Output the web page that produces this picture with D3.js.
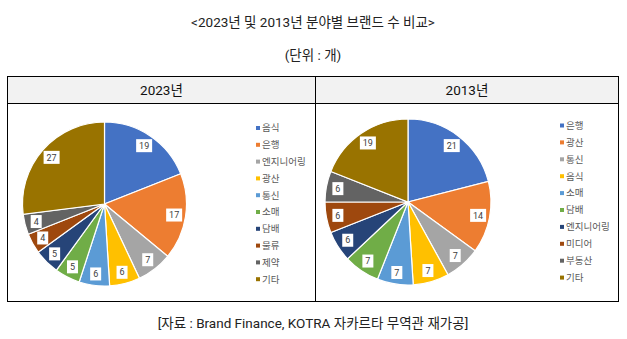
<!DOCTYPE html>
<html><head><meta charset="utf-8">
<script src="https://cdn.jsdelivr.net/npm/d3@7"></script>
<style>
body{margin:0;background:#fff;}
svg{display:block;font-family:Roboto,"Noto Sans CJK KR","Noto Sans",sans-serif;}
</style></head>
<body><svg id="chart" width="627" height="339"></svg>
<script>
// 2023 brands by sector
const cats2023 = ["음식","은행","엔지니어링","광산","통신","소매","담배","물류","제약","기타"];
const vals2023 = [19,17,7,6,6,5,5,4,4,27];
// 2013 brands by sector
const cats2013 = ["은행","광산","통신","음식","소매","담배","엔지니어링","미디어","부동산","기타"];
const vals2013 = [21,14,7,7,7,7,6,6,6,19];
const palette = ["#4472C4","#ED7D31","#A5A5A5","#FFC000","#5B9BD5","#70AD47","#264478","#9E480E","#636363","#997300"];

const svg = d3.select("#chart");

svg.append("text").attr("x",313).attr("y",27).attr("text-anchor","middle")
  .attr("font-size",13.5).attr("fill","#222").text("<2023년 및 2013년 분야별 브랜드 수 비교>");
svg.append("text").attr("x",313).attr("y",60).attr("text-anchor","middle")
  .attr("font-size",13.5).attr("fill","#222").text("(단위 : 개)");
svg.append("text").attr("x",313).attr("y",328).attr("text-anchor","middle")
  .attr("font-size",13.5).attr("fill","#222").text("[자료 : Brand Finance, KOTRA 자카르타 무역관 재가공]");

// table frame
const T = {x0:7.5, x1:618.5, y0:76.5, yh:103.5, y1:301.5, xm:315.5};
svg.append("rect").attr("x",T.x0).attr("y",T.y0).attr("width",T.x1-T.x0).attr("height",T.yh-T.y0).attr("fill","#f2f2f2");
svg.append("rect").attr("x",T.x0).attr("y",T.y0).attr("width",T.x1-T.x0).attr("height",T.y1-T.y0)
  .attr("fill","none").attr("stroke","#000").attr("stroke-width",1);
svg.append("line").attr("x1",T.x0).attr("x2",T.x1).attr("y1",T.yh).attr("y2",T.yh).attr("stroke","#000");
svg.append("line").attr("x1",T.xm).attr("x2",T.xm).attr("y1",T.y0).attr("y2",T.y1).attr("stroke","#000");
svg.append("text").attr("x",(T.x0+T.xm)/2).attr("y",95).attr("text-anchor","middle")
  .attr("font-size",13.5).attr("fill","#111").text("2023년");
svg.append("text").attr("x",(T.xm+T.x1)/2).attr("y",95).attr("text-anchor","middle")
  .attr("font-size",13.5).attr("fill","#111").text("2013년");

function drawPie(cats, vals, cx, cy, r, lx, ly, lstep){
  const pie = d3.pie().sort(null).value(d=>d.v);
  const data = pie(cats.map((c,i)=>({c, v:vals[i], i})));
  const arc = d3.arc().innerRadius(0).outerRadius(r);
  const labArc = d3.arc().innerRadius(r*0.86).outerRadius(r*0.86);
  const g = svg.append("g").attr("transform",`translate(${cx},${cy})`);
  g.selectAll("path").data(data).join("path")
    .attr("d",arc).attr("fill",d=>palette[d.data.i])
    .attr("stroke","#fff").attr("stroke-width",1.2);
  const lg = g.selectAll("g.lab").data(data).join("g").attr("class","lab")
    .attr("transform",d=>`translate(${labArc.centroid(d)})`);
  lg.append("rect").attr("x",d=>String(d.data.v).length>1?-8:-5.5).attr("y",-6.5)
    .attr("width",d=>String(d.data.v).length>1?16:11).attr("height",13).attr("fill","#fff");
  lg.append("text").attr("text-anchor","middle").attr("dy","0.35em")
    .attr("font-size",9).attr("fill","#404040")
    .text(d=>d.data.v);
  const leg = svg.append("g").attr("transform",`translate(${lx},${ly})`);
  const items = leg.selectAll("g").data(cats).join("g")
    .attr("transform",(d,i)=>`translate(0,${i*lstep})`);
  items.append("rect").attr("x",-2).attr("y",-2).attr("width",4).attr("height",4)
    .attr("fill",(d,i)=>palette[i]);
  items.append("text").attr("x",4).attr("dy","0.35em").attr("font-size",9.5).attr("fill","#595959").text(d=>d);
}

drawPie(cats2023, vals2023, 104.5, 204, 82, 258, 128, 16.8);
drawPie(cats2013, vals2013, 408, 202, 83, 562, 125.5, 16.9);
</script></body></html>
